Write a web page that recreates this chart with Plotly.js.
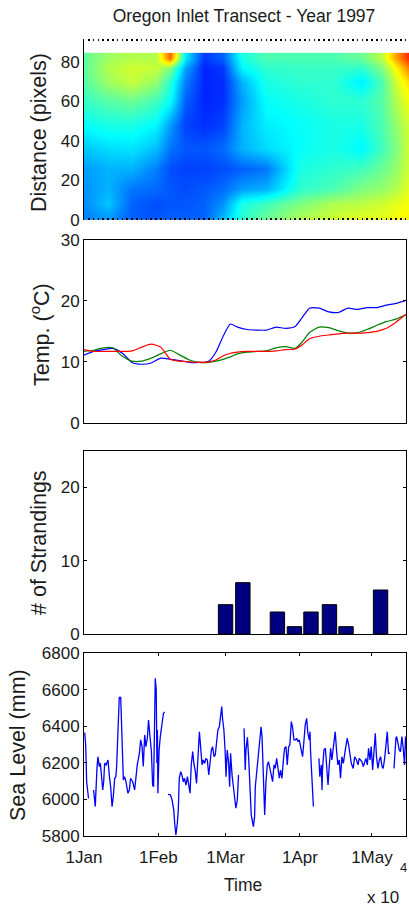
<!DOCTYPE html>
<html>
<head>
<meta charset="utf-8">
<script src="https://cdn.plot.ly/plotly-3.0.1.min.js"></script>
<style>
html,body{margin:0;padding:0;background:#fff;}
#chart{width:409px;height:911px;}
</style>
</head>
<body>
<div id="chart"></div>
<script>
// ---------- DATA (days are counted from 1 Jan 1997) ----------
const heatDay  = [0, 10, 20, 30, 36, 42, 50, 58, 66, 76, 90, 104, 116, 124, 130, 135.4];
const heatDist = [0, 8, 16, 26, 36, 48, 60, 70, 77, 82];
const heatZ = [
  [0.25,0.27,0.22,0.21,0.22,0.22,0.22,0.31,0.42,0.48,0.55,0.58,0.60,0.60,0.62,0.64],
  [0.26,0.32,0.22,0.20,0.21,0.21,0.22,0.27,0.40,0.44,0.50,0.55,0.56,0.58,0.60,0.62],
  [0.27,0.30,0.24,0.23,0.21,0.20,0.21,0.23,0.28,0.30,0.42,0.45,0.50,0.52,0.55,0.60],
  [0.28,0.30,0.30,0.25,0.20,0.19,0.19,0.20,0.22,0.24,0.40,0.42,0.44,0.48,0.52,0.58],
  [0.32,0.34,0.35,0.31,0.24,0.21,0.21,0.23,0.30,0.34,0.38,0.40,0.37,0.44,0.50,0.58],
  [0.38,0.40,0.40,0.37,0.28,0.19,0.17,0.19,0.30,0.36,0.38,0.40,0.40,0.45,0.52,0.58],
  [0.43,0.46,0.48,0.44,0.38,0.22,0.16,0.17,0.28,0.38,0.40,0.42,0.42,0.46,0.55,0.62],
  [0.46,0.53,0.57,0.52,0.42,0.25,0.16,0.17,0.30,0.40,0.42,0.42,0.36,0.45,0.58,0.66],
  [0.47,0.55,0.58,0.57,0.50,0.29,0.16,0.18,0.37,0.42,0.43,0.43,0.42,0.50,0.63,0.75],
  [0.47,0.53,0.55,0.55,0.78,0.36,0.18,0.22,0.40,0.45,0.45,0.45,0.48,0.56,0.72,0.84]
];

const tempDay = [0,4,8,12,16,20,24,28,32,36,40,44,48,52,55,58,61,64,68,72,76,80,84,88,91,94,98,102,106,110,114,118,122,126,130,134.2];
const tempBlue  = [11.1,11.7,12.0,12.2,11.4,9.9,9.6,9.8,10.6,10.4,10.2,9.9,9.9,10.1,11.6,14.2,16.2,15.7,15.3,15.2,15.2,15.7,15.5,15.8,17.3,18.8,18.8,18.2,18.1,18.8,18.6,18.9,18.9,19.3,19.6,20.1];
const tempGreen = [11.7,11.9,12.3,12.3,10.9,10.1,10.1,10.6,11.3,11.9,11.1,10.3,9.9,9.9,10.1,10.4,10.8,11.3,11.6,11.7,11.8,12.3,12.5,12.2,13.3,14.8,15.7,15.6,15.1,14.7,14.8,15.3,16.0,16.6,17.0,17.7];
const tempRed   = [12.0,11.7,11.7,11.7,11.7,11.8,12.4,12.9,12.4,10.4,10.1,10.0,9.9,10.0,10.3,11.0,11.4,11.6,11.7,11.7,11.7,11.8,12.0,12.1,12.8,13.8,14.2,14.4,14.6,14.7,14.7,14.8,15.0,15.5,16.5,17.8];

const strandDay   = [59.0, 66.2, 80.6, 87.7, 94.6, 102.3, 109.2, 123.6];
const strandCount = [4, 7, 3, 1, 3, 4, 1, 6];

const seaDay = [
 0.3,0.7,1.1,1.9,3.0,4.0,4.7,5.4,5.8,6.4,6.8,7.2,7.8,8.2,8.6,9.2,10.0,10.6,11.1,11.7,12.2,12.8,13.3,13.6,14.2,14.7,15.3,15.8,16.4,16.9,17.5,18.3,18.9,19.4,20.3,21.1,21.7,22.2,23.1,23.6,24.2,24.7,25.3,25.8,26.4,26.9,27.5,28.1,28.6,29.0,29.7,30.1,30.4,30.6,30.8,31.3,31.8,32.4,33.1,33.6,34.3,
 35.0,36.0,36.7,37.4,37.8,38.3,38.9,39.3,39.7,40.3,40.8,41.4,41.9,42.5,43.1,43.6,44.2,44.7,45.3,45.8,46.4,46.9,47.5,48.1,48.6,49.2,49.7,50.3,50.8,51.4,52.0,52.5,53.1,53.6,54.2,54.7,55.3,55.8,56.4,57.0,57.4,57.8,58.3,58.8,59.2,59.7,60.3,60.7,61.1,61.7,62.2,62.8,63.3,63.9,64.4,65.5,
 66.7,66.9,67.2,67.5,68.1,68.6,69.2,69.7,70.6,71.1,71.4,71.9,72.4,72.8,73.3,73.8,74.2,74.7,75.3,75.8,76.4,76.9,77.5,78.2,78.6,79.2,79.7,80.3,80.8,81.4,81.9,82.5,83.1,83.6,84.2,84.7,85.3,85.8,86.4,86.9,87.5,88.1,88.6,89.2,89.7,90.6,91.1,91.7,92.2,92.8,93.3,93.9,94.2,94.4,95.0,95.6,96.7,
 97.9,98.3,98.9,99.2,99.4,100.0,100.6,101.1,101.7,102.2,102.8,103.3,103.9,104.7,105.3,105.8,106.4,106.9,107.5,108.1,108.9,109.7,110.3,110.8,111.4,112.2,112.8,113.6,114.2,114.7,115.3,115.8,116.4,116.9,117.5,118.1,118.6,119.2,119.7,120.3,120.8,121.4,121.9,122.5,123.1,123.6,124.2,124.7,125.3,125.8,126.4,126.9,127.5,128.3,
 129.2,129.4,130.0,130.3,130.8,131.4,131.9,132.2,132.5,133.1,133.6,134.0,134.4
];
const seaLevel = [
 6366,6298,6097,6006,null,6052,5961,6170,6234,6180,6198,6143,6052,6097,6198,6189,6216,6125,6070,5961,6015,6116,6125,6180,6353,6559,6559,6289,6107,6125,6097,6034,6052,6116,6097,6052,6152,6189,6253,6326,6289,6180,6353,6289,6335,6435,6344,6262,6079,6070,6663,6600,6200,6380,6034,6271,6344,6417,6471,6480,null,
 6028,6025,5997,5943,5870,5806,5870,5943,6116,6152,6134,6097,6116,6079,6125,6079,6034,6189,6262,6198,6152,6088,6234,6371,6289,6189,6216,6198,6225,6216,6134,6207,6271,6289,6234,6243,6307,6380,6398,6462,6508,6435,6380,6271,6125,6271,6198,6070,6253,6134,6079,6034,5952,5997,6134,null,
 6389,6298,6161,6271,6340,6234,6043,5915,5851,5906,6070,6134,6234,6289,6353,6398,6344,6079,5915,6088,6189,6207,6161,6116,6097,6189,6170,6225,6170,6116,6161,6116,6216,6280,6289,6189,6289,6298,6426,6398,6326,6326,6335,6316,6326,6253,6234,6326,6408,6444,6362,6326,6371,6271,6070,5961,null,
 6225,6125,6189,6052,6161,6271,6280,6198,6079,6180,6280,6216,6289,6371,6262,6189,6216,6116,6234,6198,6271,6335,6298,6243,6198,6170,6234,6216,6189,6225,6216,6207,6180,6207,6225,6189,6280,6216,6289,6161,6280,6362,6234,6170,6216,6234,6180,6170,6225,6316,6371,6253,6253,null,
 6170,6234,6335,6344,6316,6271,6262,6335,6344,6271,6189,6344,6271
];

const monthTickDay  = [0, 31, 59, 90, 120];
const monthTickText = ['1Jan', '1Feb', '1Mar', '1Apr', '1May'];

// ---------- helpers ----------
const BASE = Date.UTC(1997, 0, 1);
const DAYMS = 86400000;
function toDate(d){ return new Date(BASE + d * DAYMS).toISOString().slice(0,19).replace('T',' '); }
const W = 409, H = 911;
const px = v => v / W;
const py = v => 1 - v / H;

const FONT = 'Liberation Sans, Arial, Helvetica, sans-serif';
const TXT = '#1a1a1a';
const jet = [[0,'#00008f'],[0.125,'#0000ff'],[0.375,'#00ffff'],[0.625,'#ffff00'],[0.875,'#ff0000'],[1,'#800000']];

const xRange  = [toDate(0), toDate(134.2)];
const xRangeH = [toDate(0), toDate(135.4)];

const traces = [
  { type:'heatmap', x: heatDay.map(toDate), y: heatDist, z: heatZ,
    colorscale: jet, zmin: 0, zmax: 1, zsmooth: 'best', showscale: false,
    xaxis:'x', yaxis:'y', hoverinfo:'skip' },
  { type:'scatter', mode:'lines', x: tempDay.map(toDate), y: tempBlue,
    line:{color:'#0000ff', width:1.2, shape:'spline', smoothing:0.6}, xaxis:'x2', yaxis:'y2' },
  { type:'scatter', mode:'lines', x: tempDay.map(toDate), y: tempGreen,
    line:{color:'#008000', width:1.2, shape:'spline', smoothing:0.6}, xaxis:'x2', yaxis:'y2' },
  { type:'scatter', mode:'lines', x: tempDay.map(toDate), y: tempRed,
    line:{color:'#ff0000', width:1.2, shape:'spline', smoothing:0.6}, xaxis:'x2', yaxis:'y2' },
  { type:'bar', x: strandDay.map(toDate), y: strandCount, width: 6 * DAYMS,
    marker:{color:'#000080', line:{color:'#000000', width:1}}, xaxis:'x3', yaxis:'y3' },
  { type:'scatter', mode:'lines', x: seaDay.map(toDate), y: seaLevel, connectgaps:false,
    line:{color:'#0000ff', width:1.3}, xaxis:'x4', yaxis:'y4' }
];

const tickFont = {family: FONT, size: 17, color: TXT};
const boxX = (dom, anchor) => ({ type:'date', domain: dom, anchor: anchor, range: xRange,
  showline:true, mirror:true, linecolor:'#000', linewidth:1, ticks:'', showticklabels:false,
  showgrid:false, zeroline:false, fixedrange:true });
const boxY = (dom, anchor, range, dtick) => ({ domain: dom, anchor: anchor, range: range,
  tickmode:'linear', tick0: range[0], dtick: dtick, ticks:'inside', ticklen:3, tickcolor:'#000',
  showline:true, mirror:'ticks', linecolor:'#000', linewidth:1, showgrid:false, zeroline:false,
  tickfont: tickFont, fixedrange:true });

const layout = {
  width: W, height: H,
  margin: {l:0, r:0, t:0, b:0},
  paper_bgcolor:'#fff', plot_bgcolor:'#fff',
  showlegend:false,
  bargap: 0,
  title: {text:'Oregon Inlet Transect - Year 1997', font:{family:FONT, size:17.5, color:TXT},
          x: px(244), y: py(16), xanchor:'center', yanchor:'middle', xref:'paper', yref:'container'},
  xaxis: { type:'date', domain:[px(84), 1], anchor:'y', range: xRangeH,
    tickmode:'linear', tick0: toDate(0), dtick: 2 * DAYMS, ticks:'inside', ticklen:2, tickwidth:1.5,
    tickcolor:'#000', mirror:'ticks', showline:false, showticklabels:false, showgrid:false,
    zeroline:false, layer:'above traces', fixedrange:true },
  yaxis: { domain:[py(220), py(39)], anchor:'x', range:[0, 91.5], tickmode:'linear', tick0:0, dtick:20,
    ticks:'', showline:true, linecolor:'#000', linewidth:1, showgrid:false, zeroline:false,
    tickfont: tickFont, layer:'below traces', fixedrange:true },
  xaxis2: boxX([px(84), px(406)], 'y2'),
  yaxis2: boxY([py(422.7), py(240)], 'x2', [0, 30], 10),
  xaxis3: boxX([px(84), px(406)], 'y3'),
  yaxis3: boxY([py(634), py(450.7)], 'x3', [0, 25], 10),
  xaxis4: Object.assign(boxX([px(84), px(406)], 'y4'), {
    ticks:'inside', ticklen:3, tickcolor:'#000', mirror:'ticks', showticklabels:true,
    tickmode:'array', tickvals: monthTickDay.map(toDate), ticktext: monthTickText, tickfont: tickFont,
    ticklabelstandoff: 6 }),
  yaxis4: boxY([py(836), py(653.3)], 'x4', [5800, 6800], 200),
  annotations: [
    {text:'Distance (pixels)', x: px(39), y: py(133)},
    {text:'Temp. (<sup>o</sup>C)', x: px(40), y: py(335)},
    {text:'# of Strandings', x: px(39), y: py(543)},
    {text:'Sea Level (mm)', x: px(18), y: py(745)}
  ].map(a => Object.assign(a, {xref:'paper', yref:'paper', textangle:-90, showarrow:false,
        xanchor:'center', yanchor:'middle', font:{family:FONT, size:21.5, color:TXT}}))
  .concat([
    {text:'Time', x: px(243), y: py(885), xref:'paper', yref:'paper', showarrow:false,
     xanchor:'center', yanchor:'middle', font:{family:FONT, size:17.5, color:TXT}},
    {text:'x 10', x: px(383), y: py(897), xref:'paper', yref:'paper', showarrow:false,
     xanchor:'center', yanchor:'middle', font:{family:FONT, size:17, color:TXT}},
    {text:'4', x: px(403), y: py(867), xref:'paper', yref:'paper', showarrow:false,
     xanchor:'center', yanchor:'middle', font:{family:FONT, size:13, color:TXT}}
  ])
};

Plotly.newPlot('chart', traces, layout, {displayModeBar:false, staticPlot:true});
</script>
</body>
</html>
